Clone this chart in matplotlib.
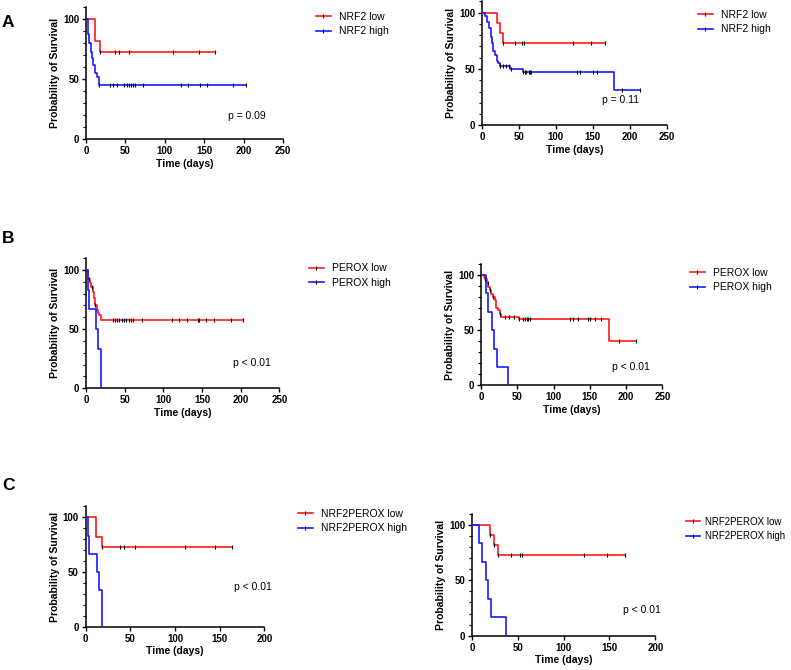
import numpy as np
import matplotlib
matplotlib.use("Agg")
import matplotlib.pyplot as plt
from matplotlib.lines import Line2D
from matplotlib.ticker import MultipleLocator

plt.rcParams['font.family'] = ['Liberation Sans', 'DejaVu Sans']

# ---- data (time in days, survival in %) ----
# panel A left
a1_low_t = [11, 18]
a1_low_s = [82, 73]
a1_low_end = 164
a1_low_c = [18, 37, 42, 54, 110, 144, 164]
a1_high_t = [2, 3, 4, 6, 7, 9, 11, 12, 14, 16, 17]
a1_high_s = [96, 88, 80, 73, 68, 62, 58, 55, 52, 50, 45]
a1_high_end = 203
a1_high_c = [17, 30, 34, 39, 48, 52, 55, 57, 60, 62, 72, 120, 130, 145, 154, 186, 203]

# panel A right
a2_low_t = [20, 24, 29]
a2_low_s = [91, 82, 73]
a2_low_end = 167
a2_low_c = [29, 44, 54, 57, 123, 147, 167]
a2_high_t = [4, 7, 10, 12, 14, 15, 18, 20, 22, 24, 38, 55, 178]
a2_high_s = [97, 92, 86, 78, 73, 66, 62, 57, 55, 53, 50, 47, 31]
a2_high_end = 214
a2_high_c = [24, 29, 32, 36, 39, 56, 58, 60, 63, 65, 67, 128, 132, 150, 156, 190, 214]

# panel B left
b1_low_t = [2, 3, 5, 7, 9, 10, 12, 14, 15, 17, 19]
b1_low_s = [96, 92, 89, 86, 81, 76, 70, 66, 64, 62, 58]
b1_low_end = 203
b1_low_c = [4, 8, 12, 35, 38, 40, 43, 46, 49, 52, 55, 58, 61, 73, 111, 120, 131,
            145, 146, 155, 165, 187, 203]
b1_high_t = [2, 4, 13, 15, 19]
b1_high_s = [83.3, 66.7, 50, 33.3, 0]
b1_high_end = 19
b1_high_c = []

# panel B right
b2_low_t = [4, 6, 8, 10, 12, 14, 16, 19, 21, 24, 26, 28, 52, 176]
b2_low_s = [98.5, 96, 92.5, 89.5, 86, 83, 80, 77, 70, 68, 65, 62, 60, 40]
b2_low_end = 214
b2_low_c = [6, 9, 12, 17, 26, 33, 39, 45, 52, 58, 61, 63, 65, 68, 123, 127, 134,
            148, 150, 157, 166, 190, 214]
b2_high_t = [6.5, 9, 15, 18, 22, 37]
b2_high_s = [83.3, 66.7, 50, 33.3, 16.7, 0]
b2_high_end = 37
b2_high_c = []

# panel C left
c1_low_t = [12, 18]
c1_low_s = [82, 73]
c1_low_end = 164
c1_low_c = [18, 38, 43, 55, 111, 145, 164]
c1_high_t = [3, 4, 13, 15, 18]
c1_high_s = [83.3, 66.7, 50, 33.3, 0]
c1_high_end = 18
c1_high_c = []

# panel C right
c2_low_t = [20, 24, 28]
c2_low_s = [91, 82, 73]
c2_low_end = 167
c2_low_c = [20, 24, 28, 43, 52, 55, 122, 147, 167]
c2_high_t = [8, 11, 15, 17, 21, 37]
c2_high_s = [83.3, 66.7, 50, 33.3, 16.7, 0]
c2_high_end = 37
c2_high_c = []

labels_a = ["NRF2 low", "NRF2 high"]
labels_b = ["PEROX low", "PEROX high"]
labels_c = ["NRF2PEROX low", "NRF2PEROX high"]
p_a1, p_a2 = "p = 0.09", "p = 0.11"
p_b1, p_b2 = "p < 0.01", "p < 0.01"
p_c1, p_c2 = "p < 0.01", "p < 0.01"

RED = "#ff1a1a"
BLUE = "#1a1aff"
W, H = 791, 670

fig = plt.figure(figsize=(W / 100, H / 100), dpi=100)


def px_axes(left, right, y0, y100):
    per = (y0 - y100) / 100.0
    top = y0 - 110 * per
    return fig.add_axes([left / W, 1 - y0 / H, (right - left) / W, (y0 - top) / H])


def km(ax, t, s, end, cens, color):
    xs = np.concatenate([[0], t, [end]])
    ys = np.concatenate([[100], s, [s[-1]]])
    ax.step(xs, ys, where="post", color=color, lw=1.2, zorder=3)
    if len(cens):
        idx = np.searchsorted(xs, cens, side="right") - 1
        ax.plot(cens, ys[idx], ls="none", marker="|", ms=3.4, mew=0.8,
                color="black", zorder=4)


def panel(ax, low, high, xmax, labels, ptxt, ppos, leg_px, leg_fs=7.5, leg_pad=0.8):
    km(ax, *low, RED)
    km(ax, *high, BLUE)
    ax.set_xlim(0, xmax)
    ax.set_ylim(0, 110)
    ax.set_xticks(np.arange(0, xmax + 1, 50))
    ax.set_yticks([0, 50, 100])
    ax.yaxis.set_minor_locator(MultipleLocator(10))
    for sp in ["top", "right"]:
        ax.spines[sp].set_visible(False)
    for sp in ["left", "bottom"]:
        ax.spines[sp].set_linewidth(1.1)
    ax.tick_params(which="major", length=3, width=1.0, pad=2, labelsize=7)
    ax.tick_params(which="minor", length=2, width=0.8)
    for lab in ax.get_xticklabels() + ax.get_yticklabels():
        lab.set_fontweight("bold")
    ax.set_xlabel("Time (days)", fontsize=7.5, fontweight="bold", labelpad=2)
    ax.set_ylabel("Probability of Survival", fontsize=7.5, fontweight="bold", labelpad=2)
    ax.text(ppos[0], ppos[1], ptxt, fontsize=7.5, va="center", ha="left")
    handles = [Line2D([], [], color=RED, lw=1.2, marker="|", ms=3, mec="black", mew=0.8),
               Line2D([], [], color=BLUE, lw=1.2, marker="|", ms=3, mec="black", mew=0.8)]
    ax.legend(handles, labels, loc="center left", frameon=False, fontsize=leg_fs,
              bbox_to_anchor=(leg_px[0] / W, 1 - leg_px[1] / H),
              bbox_transform=fig.transFigure, borderpad=0, borderaxespad=0,
              handlelength=1.4, handletextpad=leg_pad, labelspacing=0.45, numpoints=1)


ax = px_axes(86, 283, 139.3, 19.3)
panel(ax, (a1_low_t, a1_low_s, a1_low_end, a1_low_c),
      (a1_high_t, a1_high_s, a1_high_end, a1_high_c), 250, labels_a, p_a1, (180, 19.5), (316, 24))
ax = px_axes(482, 666.7, 125.3, 12.7)
panel(ax, (a2_low_t, a2_low_s, a2_low_end, a2_low_c),
      (a2_high_t, a2_high_s, a2_high_end, a2_high_c), 250, labels_a, p_a2, (162, 22.5), (698, 22))
ax = px_axes(86, 279.3, 388.3, 270)
panel(ax, (b1_low_t, b1_low_s, b1_low_end, b1_low_c),
      (b1_high_t, b1_high_s, b1_high_end, b1_high_c), 250, labels_b, p_b1, (190, 21), (309, 275.5))
ax = px_axes(481, 662.3, 385.3, 275)
panel(ax, (b2_low_t, b2_low_s, b2_low_end, b2_low_c),
      (b2_high_t, b2_high_s, b2_high_end, b2_high_c), 250, labels_b, p_b2, (181, 17), (690, 280))
ax = px_axes(85.7, 264.3, 626.7, 517.3)
panel(ax, (c1_low_t, c1_low_s, c1_low_end, c1_low_c),
      (c1_high_t, c1_high_s, c1_high_end, c1_high_c), 200, labels_c, p_c1, (166, 36), (298, 521))
ax = px_axes(472, 655.3, 635.7, 524.7)
panel(ax, (c2_low_t, c2_low_s, c2_low_end, c2_low_c),
      (c2_high_t, c2_high_s, c2_high_end, c2_high_c), 200, labels_c, p_c2, (165, 23), (686, 529),
      leg_fs=7.0, leg_pad=0.6)

for letter, yb in [("A", 27), ("B", 243), ("C", 490)]:
    fig.text(2 / W, 1 - yb / H, letter, fontsize=12.5, fontweight="bold", ha="left", va="baseline")

fig.savefig("out.png", dpi=100)
